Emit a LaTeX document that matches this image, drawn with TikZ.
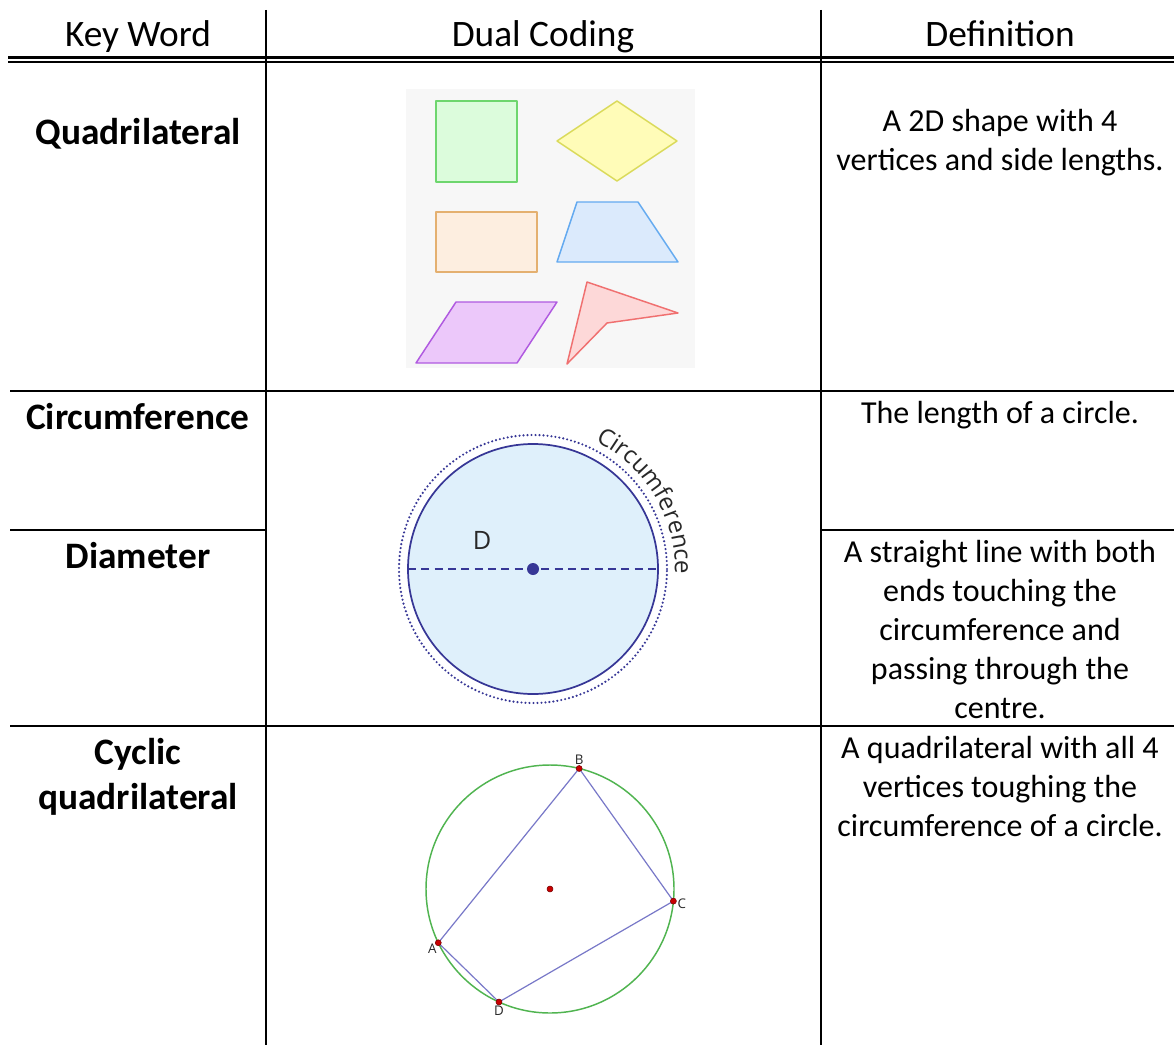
\documentclass[tikz,border=0pt]{standalone}
\usepackage{fontspec}
\setmainfont{Carlito}
\newfontfamily\figfont{Open Sans}
\usetikzlibrary{decorations.text}

\definecolor{ink}{RGB}{55,55,150}
\definecolor{discfill}{RGB}{223,240,251}
\definecolor{ringgreen}{RGB}{80,180,80}
\definecolor{quadblue}{RGB}{120,120,200}
\definecolor{dotred}{RGB}{200,0,0}
\definecolor{figgray}{RGB}{40,40,40}

\begin{document}
\begin{tikzpicture}[x=0.75pt,y=0.75pt,
  rule/.style={line width=1.1pt},
  head/.style={inner sep=0pt,anchor=base,font=\fontsize{28}{34}\selectfont},
  keyword/.style={inner sep=0pt,anchor=base,align=center,font=\bfseries\fontsize{28}{33.75}\selectfont},
  defn/.style={inner sep=0pt,anchor=base,align=center,font=\fontsize{24}{29.25}\selectfont},
  quadedge/.style={line width=1.1pt,line join=round},
  vertex/.style={circle,fill=dotred,draw=dotred!60!black,line width=0.4pt,inner sep=0pt,minimum size=4.5pt},
  vlabel/.style={inner sep=1pt,font=\figfont\fontsize{10}{10}\selectfont,text=figgray}]

\fill[white] (0,0) rectangle (1174,-1045);
\useasboundingbox (0,0) rectangle (1174,-1045);

% table rules
\draw[rule] (266,-10) -- (266,-1045);
\draw[rule] (821,-10) -- (821,-1045);
\draw[line width=2.2pt] (8,-57.5) -- (1174,-57.5);
\draw[line width=1.5pt] (8,-62.5) -- (1174,-62.5);
\foreach \y in {391,726}
  \draw[rule] (10,-\y) -- (1174,-\y);
\draw[rule] (10,-530) -- (266,-530);
\draw[rule] (821,-530) -- (1174,-530);

% header
\node[head] (hkey) at (138,-47) {Key Word};
\node[head] (hdual) at (543,-47) {Dual Coding};
\node[head] (hdef) at (1000,-47) {Definition};

% key words (placed at the baseline of their last line)
\node[keyword] (kquad) at (138,-145) {Quadrilateral};
\node[keyword] (kcirc) at (138,-429) {Circumference};
\node[keyword] (kdiam) at (138,-568) {Diameter};
\node[keyword] (kcyc) at (138,-809) {Cyclic\\quadrilateral};

% definitions
\node[defn] (dquad) at (1000,-171) {A 2D shape with 4\\vertices and side lengths.};
\node[defn] (dcirc) at (1000,-423) {The length of a circle.};
\node[defn] (ddiam) at (1000,-718) {A straight line with both\\ends touching the\\circumference and\\passing through the\\centre.};
\node[defn] (dcyc) at (1000,-836) {A quadrilateral with all 4\\vertices toughing the\\circumference of a circle.};

% quadrilaterals
\fill[black!3] (406,-89) rectangle (695,-368);
\filldraw[quadedge,draw={rgb,255:red,110;green,214;blue,110},fill={rgb,255:red,220;green,252;blue,220}]
  (436,-101) rectangle (517,-182);
\filldraw[quadedge,draw={rgb,255:red,218;green,218;blue,90},fill={rgb,255:red,255;green,252;blue,184}]
  (557,-141) -- (617,-101) -- (677,-141) -- (617,-181) -- cycle;
\filldraw[quadedge,draw={rgb,255:red,228;green,176;blue,112},fill={rgb,255:red,253;green,238;blue,224}]
  (436,-212) rectangle (537,-272);
\filldraw[quadedge,draw={rgb,255:red,100;green,170;blue,240},fill={rgb,255:red,219;green,234;blue,252}]
  (577,-202) -- (638,-202) -- (678,-262) -- (557,-262) -- cycle;
\filldraw[quadedge,draw={rgb,255:red,176;green,90;blue,224},fill={rgb,255:red,236;green,200;blue,250}]
  (456,-302) -- (557,-302) -- (517,-363) -- (416,-363) -- cycle;
\filldraw[quadedge,draw={rgb,255:red,240;green,112;blue,112},fill={rgb,255:red,253;green,216;blue,216}]
  (587,-282) -- (678,-313) -- (607,-323) -- (567,-364) -- cycle;

% circle with diameter
\coordinate (O) at (533,-569);
\filldraw[draw=ink,fill=discfill,line width=1.3pt] (O) circle (125);
\draw[ink,line width=1.8pt,line cap=round,dash pattern=on 0pt off 3pt] (O) circle (134);
\draw[ink,line width=1.1pt,dash pattern=on 6pt off 4pt] ([xshift=-125*0.75pt]O) -- ([xshift=125*0.75pt]O);
\fill[ink] (O) circle (6);
\node[inner sep=0pt,font=\figfont\fontsize{19}{19}\selectfont,text=figgray] (dlab) at (482,-540) {D};
\path[decorate,decoration={text along path,text align=left,
  text={|\figfont\fontsize{18}{18}\selectfont\color{figgray}|Circumference}}]
  ([shift={(64:142)}]O) arc[start angle=64,end angle=-6,radius=142];

% cyclic quadrilateral
\coordinate (M) at (550,-889);
\draw[ringgreen,line width=1.1pt] (M) circle (124);
\coordinate (B) at ([shift={(76.4:124)}]M);
\coordinate (C) at ([shift={(-5.6:124)}]M);
\coordinate (D) at ([shift={(245.7:124)}]M);
\coordinate (A) at ([shift={(205.7:124)}]M);
\draw[quadblue,line width=0.9pt] (A) -- (B) -- (C) -- (D) -- cycle;
\foreach \p in {A,B,C,D,M}
  \node[vertex] at (\p) {};
\node[vlabel,above] (lb) at ([yshift=2pt]B) {B};
\node[vlabel,right] (lc) at ([xshift=2pt,yshift=-2pt]C) {C};
\node[vlabel,below left] (la) at (A) {A};
\node[vlabel,below] (ld) at ([yshift=-2pt]D) {D};
\end{tikzpicture}
\end{document}
